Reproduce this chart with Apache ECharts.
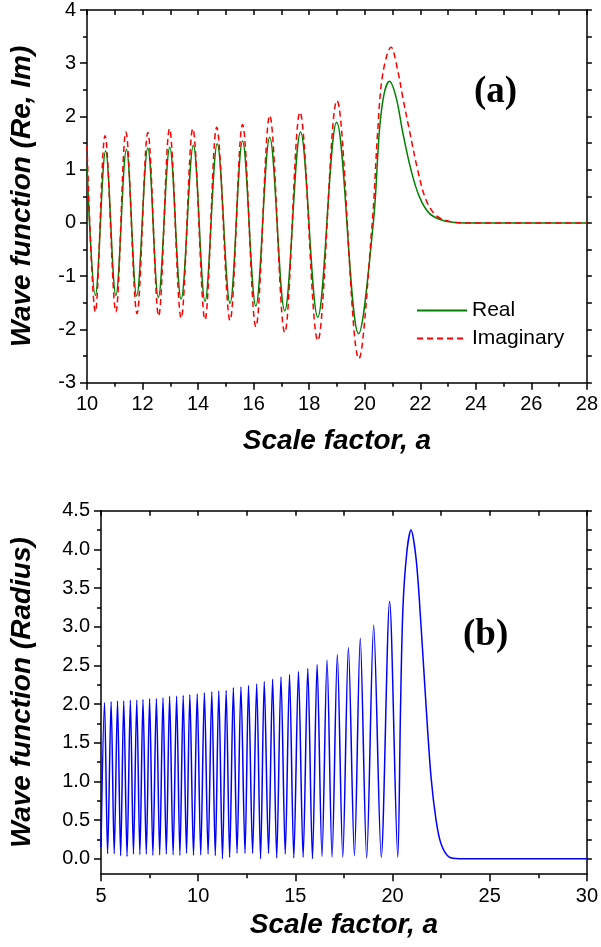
<!DOCTYPE html>
<html>
<head>
<meta charset="utf-8">
<script src="https://cdn.jsdelivr.net/npm/echarts@6/dist/echarts.min.js"></script>
<style>html,body{margin:0;padding:0;background:#fff}#c{width:601px;height:947px}</style>
</head>
<body>
<div id="c"></div>
<script>
// ---- Panel (a): real and imaginary parts ----
const reA = [10.00,10.30,10.67,11.04,11.42,11.79,12.19,12.57,12.98,13.39,13.83,14.25,14.69,15.15,15.60,16.08,16.58,17.12,17.69,18.31,18.99,19.78,20.31,20.53,20.70,20.89,21.13,21.37,21.67,21.97,22.33,22.80,23.28,24.00,28.00];
const reV = [1.05,-1.36,1.35,-1.36,1.38,-1.37,1.41,-1.40,1.42,-1.43,1.46,-1.47,1.49,-1.51,1.54,-1.56,1.61,-1.65,1.71,-1.77,1.89,-2.08,0.00,1.74,2.43,2.66,2.36,1.70,0.99,0.49,0.18,0.05,0.01,0.00,0.00];
const imA = [10.00,10.30,10.65,11.04,11.40,11.80,12.19,12.58,12.97,13.39,13.81,14.25,14.67,15.15,15.60,16.08,16.58,17.12,17.67,18.31,19.00,19.79,20.27,20.47,20.65,20.95,21.19,21.37,21.61,21.91,22.21,22.57,23.05,23.50,28.00];
const imV = [1.45,-1.67,1.64,-1.67,1.71,-1.70,1.70,-1.75,1.77,-1.79,1.77,-1.82,1.80,-1.83,1.85,-1.95,2.02,-2.06,2.08,-2.21,2.30,-2.55,0.00,1.74,2.80,3.30,2.86,2.36,1.74,0.99,0.43,0.14,0.03,0.00,0.00];

// ---- Panel (b): radius ----
const radA = [5.00,5.18,5.34,5.52,5.68,5.85,6.01,6.17,6.34,6.51,6.67,6.84,7.00,7.16,7.33,7.50,7.67,7.85,8.02,8.19,8.36,8.53,8.71,8.89,9.06,9.23,9.40,9.57,9.76,9.95,10.13,10.32,10.51,10.70,10.88,11.06,11.25,11.44,11.62,11.81,12.00,12.20,12.41,12.59,12.80,13.01,13.21,13.40,13.62,13.83,14.04,14.26,14.48,14.70,14.92,15.16,15.40,15.64,15.88,16.12,16.37,16.63,16.89,17.16,17.44,17.73,18.04,18.34,18.67,19.03,19.42,19.85,20.27,20.41,20.53,20.73,20.95,21.22,21.47,21.73,21.98,22.24,22.50,22.92,23.44,30.00];
const radV = [0.15,2.02,0.065,2.03,0.065,2.04,0.04,2.04,0.03,2.05,0.06,2.05,0.055,2.06,0.06,2.07,0.045,2.07,0.05,2.08,0.06,2.10,0.05,2.10,0.045,2.11,0.07,2.12,0.045,2.13,0.05,2.145,0.06,2.16,0.04,2.17,0.00,2.175,0.02,2.21,0.07,2.22,0.07,2.24,0.07,2.26,0.00,2.29,0.07,2.32,0.01,2.35,0.06,2.38,0.01,2.42,0.02,2.46,0.00,2.51,0.03,2.57,0.02,2.64,0.02,2.73,0.04,2.85,0.01,3.02,0.02,3.33,0.02,1.92,3.21,3.95,4.25,3.86,3.00,1.96,1.06,0.50,0.19,0.02,0.00,0.00];

// ---- tick values ----
const yTicksB = [0,0.5,1,1.5,2,2.5,3,3.5,4,4.5];
const yMinorB = [0.25,0.75,1.25,1.75,2.25,2.75,3.25,3.75,4.25];
const yAllB = [0,0.25,0.5,0.75,1,1.25,1.5,1.75,2,2.25,2.5,2.75,3,3.25,3.5,3.75,4,4.25,4.5];

const seriesNames = ['Real','Imaginary','Radius'];
const titleX = 'Scale factor, a';
const titleYa = 'Wave function (Re, Im)';
const titleYb = 'Wave function (Radius)';

const pairs = (xs, ys) => xs.map((x, i) => [x, ys[i]]);

const FONT = "'Liberation Sans', Arial, sans-serif";
const black = '#000';
const lineS = {lineStyle: {color: black, width: 1.5}};
const nameStyle = {fontSize: 28, fontWeight: 'bold', fontStyle: 'italic', fontFamily: FONT, color: black};
const labelStyle = {fontSize: 20, fontFamily: FONT, color: black};

function mainX(grid, min, max, interval, gap) {
  return {
    type: 'value', gridIndex: grid, position: 'bottom', min, max, interval,
    axisLine: {show: true, onZero: false, ...lineS},
    axisTick: {show: true, length: 7, inside: false, ...lineS},
    minorTick: {show: true, splitNumber: 2, length: 4, ...lineS},
    splitLine: {show: false}, minorSplitLine: {show: false},
    axisLabel: {...labelStyle, margin: 12},
    name: titleX, nameLocation: 'middle', nameGap: gap, nameTextStyle: nameStyle
  };
}
function mirrorX(grid, min, max, interval) {
  return {
    type: 'value', gridIndex: grid, position: 'top', min, max, interval,
    axisLine: {show: true, onZero: false, ...lineS},
    axisTick: {show: true, length: 5, inside: true, ...lineS},
    minorTick: {show: true, splitNumber: 2, length: 5, ...lineS},
    splitLine: {show: false}, minorSplitLine: {show: false},
    axisLabel: {show: false}
  };
}

const option = {
  animation: false,
  backgroundColor: '#fff',
  grid: [
    {left: 86.7, right: 13.5, top: 9.3, bottom: 564.3, containLabel: false},
    {left: 100.7, right: 13.5, top: 510.7, bottom: 72.8, containLabel: false}
  ],
  xAxis: [
    mainX(0, 10, 28, 2, 45),
    mirrorX(0, 10, 28, 2),
    mainX(1, 5, 30, 5, 37),
    mirrorX(1, 5, 30, 5)
  ],
  yAxis: [
    {
      type: 'value', gridIndex: 0, position: 'left', min: -3, max: 4, interval: 1,
      axisLine: {show: true, onZero: false, ...lineS},
      axisTick: {show: true, length: 7, ...lineS},
      minorTick: {show: true, splitNumber: 2, length: 4, ...lineS},
      splitLine: {show: false}, minorSplitLine: {show: false},
      axisLabel: {...labelStyle, margin: 11},
      name: titleYa, nameLocation: 'middle', nameGap: 51, nameTextStyle: nameStyle
    },
    {
      type: 'value', gridIndex: 0, position: 'right', min: -3, max: 4, interval: 1,
      axisLine: {show: true, onZero: false, ...lineS},
      axisTick: {show: true, length: 5, ...lineS},
      minorTick: {show: true, splitNumber: 2, length: 5, ...lineS},
      splitLine: {show: false}, minorSplitLine: {show: false},
      axisLabel: {show: false}
    },
    {
      type: 'value', gridIndex: 1, position: 'left', min: -0.2, max: 4.5,
      axisLine: {show: true, onZero: false, ...lineS},
      axisTick: {show: true, length: 7, customValues: yTicksB, ...lineS},
      splitLine: {show: false},
      axisLabel: {...labelStyle, margin: 11, customValues: yTicksB, formatter: v => v.toFixed(1)},
      name: titleYb, nameLocation: 'middle', nameGap: 65, nameTextStyle: nameStyle
    },
    {
      type: 'value', gridIndex: 1, position: 'left', min: -0.2, max: 4.5,
      axisLine: {show: false, onZero: false},
      axisTick: {show: true, length: 4, customValues: yMinorB, ...lineS},
      splitLine: {show: false},
      axisLabel: {show: false}
    },
    {
      type: 'value', gridIndex: 1, position: 'right', min: -0.2, max: 4.5,
      axisLine: {show: true, onZero: false, ...lineS},
      axisTick: {show: true, length: 5, customValues: yAllB, ...lineS},
      splitLine: {show: false},
      axisLabel: {show: false}
    }
  ],
  legend: {
    data: [seriesNames[0], seriesNames[1]],
    orient: 'vertical', left: 411, top: 295,
    itemWidth: 50, itemHeight: 14, itemGap: 7,
    itemStyle: {opacity: 0, borderWidth: 0},
    textStyle: {fontSize: 21, fontFamily: FONT, color: black},
    selectedMode: false
  },
  graphic: [
    {type: 'text', left: 474, top: 74, style: {text: '(a)', font: "bold 37px 'Liberation Serif', 'Times New Roman', serif", fill: black}},
    {type: 'text', left: 463, top: 617, style: {text: '(b)', font: "bold 37px 'Liberation Serif', 'Times New Roman', serif", fill: black}}
  ],
  series: [
    {
      name: seriesNames[0], type: 'line', xAxisIndex: 0, yAxisIndex: 0,
      data: pairs(reA, reV), smooth: 0.36, symbol: 'none',
      lineStyle: {color: '#008000', width: 1.5}, itemStyle: {color: '#008000'}, z: 2
    },
    {
      name: seriesNames[1], type: 'line', xAxisIndex: 0, yAxisIndex: 0,
      data: pairs(imA, imV), smooth: 0.36, symbol: 'none',
      lineStyle: {color: '#ff0000', width: 1.5, type: [6, 4]}, itemStyle: {color: '#ff0000'}, z: 3
    },
    {
      name: seriesNames[2], type: 'line', xAxisIndex: 2, yAxisIndex: 2,
      data: pairs(radA, radV), smooth: 0.3, symbol: 'none',
      lineStyle: {color: '#0000ff', width: 1.5}, itemStyle: {color: '#0000ff'}, z: 2
    }
  ]
};

const chart = echarts.init(document.getElementById('c'), null, {renderer: 'canvas'});
chart.setOption(option);
</script>
</body>
</html>
